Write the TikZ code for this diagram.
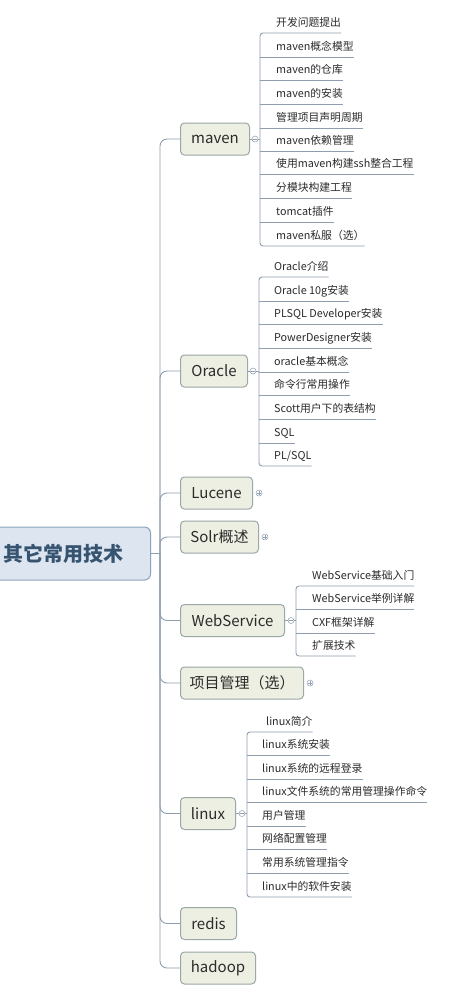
\documentclass[tikz,border=0pt]{standalone}
\usepackage{fontspec}
\setmainfont{Noto Sans CJK SC}
\usetikzlibrary{calc}
\definecolor{ln}{HTML}{8E9EAE}
\definecolor{rootfill}{HTML}{DCE5F0}
\definecolor{rootdraw}{HTML}{8DA3BC}
\definecolor{roottext}{HTML}{36536F}
\definecolor{lfill}{HTML}{EDEFE2}
\definecolor{ldraw}{HTML}{9AA8A6}
\definecolor{txt}{HTML}{2B2B2B}
\tikzset{
  ln/.style={draw=ln,line width=0.9pt},
  rootbox/.style={draw=rootdraw,fill=rootfill,rounded corners=6pt,line width=1pt,
    minimum height=53pt,minimum width=160pt,inner xsep=13pt,text=roottext,font=\fontsize{20}{22}\selectfont\bfseries},
  lone/.style={draw=ldraw,fill=lfill,rounded corners=4pt,line width=1pt,
    minimum height=32pt,inner xsep=0pt,text=txt,font=\fontsize{15}{17}\selectfont},
  kid/.style={inner xsep=0pt,inner ysep=0pt,text depth=6.5pt,text height=9pt,
    text=txt,font=\fontsize{10.8}{12}\selectfont,anchor=south west},
  mkminus/.style={circle,draw=ln,fill=white,minimum size=6pt,inner sep=0pt,line width=0.5pt,
    path picture={\draw[ln,line width=0.5pt] ([xshift=1.4pt]path picture bounding box.west) -- ([xshift=-1.4pt]path picture bounding box.east);}},
  mkplus/.style={circle,draw=ln,fill=white,minimum size=6pt,inner sep=0pt,line width=0.5pt,
    path picture={\draw[ln,line width=0.5pt] ([xshift=1.4pt]path picture bounding box.west) -- ([xshift=-1.4pt]path picture bounding box.east)
      ([yshift=1.4pt]path picture bounding box.south) -- ([yshift=-1.4pt]path picture bounding box.north);}}
}
\newcommand\kid[5]{\node[kid] (#1) at (#2,#3) {\hspace{#4}#5\hspace{10pt}};}
\begin{document}
\begin{tikzpicture}[x=1pt,y=-1pt]
\useasboundingbox (0,0) rectangle (452,989);
\fill[white] (0,0) rectangle (452,989);

% root
\node[rootbox,anchor=west] (root) at (-10,553.5) {\makebox[134pt][l]{其它常用技术}};
\coordinate (tr) at (160,553.5);
\draw[ln] (root.east) -- (tr);

% level one
\node[lone,minimum width=69pt,anchor=west] (maven) at (180,139) {maven};
\node[lone,minimum width=67pt,anchor=west] (oracle) at (180,371) {Oracle};
\node[lone,minimum width=72pt,anchor=west] (lucene) at (180,493) {Lucene};
\node[lone,minimum width=78pt,anchor=west] (solr) at (180,537) {Solr概述};
\node[lone,minimum width=104pt,anchor=west] (ws) at (180,620.5) {WebService};
\node[lone,minimum width=123pt,anchor=west] (pm) at (180,683) {项目管理（选）};
\node[lone,minimum width=55pt,anchor=west] (linux) at (180,813.5) {linux};
\node[lone,minimum width=56pt,anchor=west] (redis) at (180,923.5) {redis};
\node[lone,minimum width=75pt,anchor=west] (hadoop) at (180,968) {hadoop};

\foreach \n in {maven,oracle,lucene,solr,ws,pm,linux,redis,hadoop}
  \draw[ln,rounded corners=7pt] (\n.west) -| (tr);

% maven children
\kid{m1}{260}{33}{16pt}{开发问题提出}
\kid{m2}{260}{57}{16pt}{maven概念模型}
\kid{m3}{260}{80}{16pt}{maven的仓库}
\kid{m4}{260}{104}{16pt}{maven的安装}
\kid{m5}{260}{128}{16pt}{管理项目声明周期}
\kid{m6}{260}{151}{16pt}{maven依赖管理}
\kid{m7}{260}{174}{16pt}{使用maven构建ssh整合工程}
\kid{m8}{260}{198}{16pt}{分模块构建工程}
\kid{m9}{260}{222}{16pt}{tomcat插件}
\kid{m10}{260}{246}{16pt}{maven私服（选）}
\draw[ln,rounded corners=3pt] (m1.south east) -- (m1.south west) -- (m10.south west) -- (m10.south east);
\foreach \k in {m2,m3,m4,m5,m6,m7,m8,m9} \draw[ln] (\k.south west) -- (\k.south east);
\draw[ln] (maven.east) -- (maven.east -| m1.south west);
\node[mkminus] (mkm) at ($(maven.east)+(5,0)$) {};

% oracle children
\kid{o1}{259}{277}{15pt}{Oracle介绍}
\kid{o2}{259}{301}{15pt}{Oracle 10g安装}
\kid{o3}{259}{324}{15pt}{PLSQL Developer安装}
\kid{o4}{259}{348}{15pt}{PowerDesigner安装}
\kid{o5}{259}{372}{15pt}{oracle基本概念}
\kid{o6}{259}{395}{15pt}{命令行常用操作}
\kid{o7}{259}{419}{15pt}{Scott用户下的表结构}
\kid{o8}{259}{443}{15pt}{SQL}
\kid{o9}{259}{466}{15pt}{PL/SQL}
\draw[ln,rounded corners=3pt] (o1.south east) -- (o1.south west) -- (o9.south west) -- (o9.south east);
\foreach \k in {o2,o3,o4,o5,o6,o7,o8} \draw[ln] (\k.south west) -- (\k.south east);
\draw[ln] (oracle.east) -- (oracle.east -| o1.south west);
\node[mkminus] (mko) at ($(oracle.east)+(5,0)$) {};

% collapsed
\node[mkplus] (mkl) at ($(lucene.east)+(6,0)$) {};
\node[mkplus] (mks) at ($(solr.east)+(6,0)$) {};
\node[mkplus] (mkp) at ($(pm.east)+(6,0)$) {};

% webservice children
\kid{w1}{296}{586}{16pt}{WebService基础入门}
\kid{w2}{296}{609}{16pt}{WebService举例详解}
\kid{w3}{296}{633}{16pt}{CXF框架详解}
\kid{w4}{296}{656}{16pt}{扩展技术}
\draw[ln,rounded corners=3pt] (w1.south east) -- (w1.south west) -- (w4.south west) -- (w4.south east);
\foreach \k in {w2,w3} \draw[ln] (\k.south west) -- (\k.south east);
\draw[ln] (ws.east) -- (ws.east -| w1.south west);
\node[mkminus] (mkw) at ($(ws.east)+(6,0)$) {};

% linux children
\kid{x1}{247}{732}{19pt}{linux简介}
\kid{x2}{247}{755}{15pt}{linux系统安装}
\kid{x3}{247}{779}{15pt}{linux系统的远程登录}
\kid{x4}{247}{802}{15pt}{linux文件系统的常用管理操作命令}
\kid{x5}{247}{826}{15pt}{用户管理}
\kid{x6}{247}{849}{15pt}{网络配置管理}
\kid{x7}{247}{873}{15pt}{常用系统管理指令}
\kid{x8}{247}{897}{15pt}{linux中的软件安装}
\draw[ln,rounded corners=3pt] (x1.south east) -- (x1.south west) -- (x8.south west) -- (x8.south east);
\foreach \k in {x2,x3,x4,x5,x6,x7} \draw[ln] (\k.south west) -- (\k.south east);
\draw[ln] (linux.east) -- (linux.east -| x1.south west);
\node[mkminus] (mkx) at ($(linux.east)+(6,0)$) {};
\end{tikzpicture}
\end{document}
